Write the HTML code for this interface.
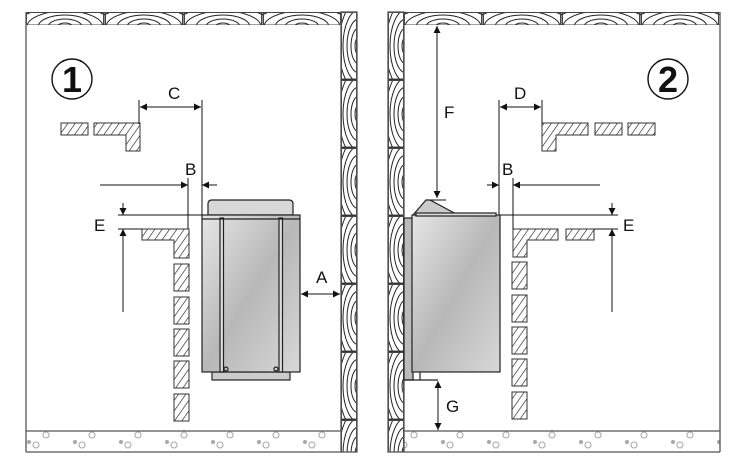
<!DOCTYPE html>
<html><head><meta charset="utf-8"><style>html,body{margin:0;padding:0;background:#fff}svg{display:block}text{font-family:"Liberation Sans",sans-serif;fill:#111}</style></head>
<body>
<svg width="750" height="470" viewBox="0 0 750 470" xmlns="http://www.w3.org/2000/svg">
<defs>
<pattern id="h" width="6" height="6" patternUnits="userSpaceOnUse" patternTransform="rotate(35)"><rect width="6" height="6" fill="#fff"/><line x1="0" y1="0" x2="0" y2="6" stroke="#222" stroke-width="1.3"/></pattern>
<linearGradient id="g" x1="0" y1="0" x2="1" y2="1"><stop offset="0" stop-color="#e6e6e6"/><stop offset="0.5" stop-color="#b8b8b8"/><stop offset="1" stop-color="#d8d8d8"/></linearGradient>
<marker id="a" viewBox="0 0 10 10" refX="10" refY="5" markerWidth="7" markerHeight="7" orient="auto-start-reverse"><path d="M0,0L10,5L0,10z" fill="#111"/></marker>
<g id="cbg" fill="none" stroke="#222" stroke-width="1">
<rect width="79" height="13" fill="#fff"/>
<ellipse cx="39" cy="15" rx="8" ry="4"/><ellipse cx="39" cy="15" rx="17" ry="8"/><ellipse cx="39" cy="15" rx="27" ry="12"/><ellipse cx="39" cy="15" rx="38" ry="16"/><ellipse cx="39" cy="15" rx="50" ry="20"/>
<rect x="0.5" y="0.5" width="77" height="12.5" stroke="#444"/>
</g>
<pattern id="cb1" x="26" y="12" width="79" height="13" patternUnits="userSpaceOnUse"><use href="#cbg"/></pattern>
<pattern id="cb2" x="404" y="12" width="79" height="13" patternUnits="userSpaceOnUse"><use href="#cbg"/></pattern>
<g id="wbg" fill="none" stroke="#222" stroke-width="1">
<rect width="16" height="68" fill="#fff"/>
<ellipse cx="18" cy="34" rx="4" ry="9"/><ellipse cx="18" cy="34" rx="8" ry="18"/><ellipse cx="18" cy="34" rx="12" ry="27"/><ellipse cx="18" cy="34" rx="16" ry="36"/><ellipse cx="18" cy="34" rx="20" ry="45"/>
<rect x="0.5" y="0.5" width="15" height="66.5" stroke="#444"/>
</g>
<pattern id="wb1" x="341" y="12" width="16" height="68" patternUnits="userSpaceOnUse"><use href="#wbg"/></pattern>
<pattern id="wb2" x="388" y="12" width="16" height="68" patternUnits="userSpaceOnUse"><use href="#wbg"/></pattern>
<pattern id="fl" x="26" y="431" width="46" height="21" patternUnits="userSpaceOnUse">
<g fill="none" stroke="#aaa" stroke-width="1.1"><circle cx="20" cy="4" r="3"/><circle cx="10" cy="14" r="3"/><circle cx="3" cy="11" r="1.5" fill="#aaa"/></g></pattern>
</defs>
<rect x="26" y="12" width="315" height="13" fill="url(#cb1)"/>
<rect x="404" y="12" width="316" height="13" fill="url(#cb2)"/>
<rect x="341" y="12" width="16" height="440" fill="url(#wb1)"/>
<rect x="388" y="12" width="16" height="440" fill="url(#wb2)"/>
<rect x="26" y="431" width="315" height="21" fill="url(#fl)"/>
<rect x="404" y="431" width="316" height="21" fill="url(#fl)"/>
<g fill="none" stroke="#555" stroke-width="1.3">
<line x1="26" y1="12" x2="26" y2="452"/><line x1="26" y1="452" x2="341" y2="452"/><line x1="26" y1="431" x2="341" y2="431"/>
<line x1="720" y1="12" x2="720" y2="452"/><line x1="404" y1="452" x2="720" y2="452"/><line x1="404" y1="431" x2="720" y2="431"/>
<rect x="341" y="12" width="16" height="440"/><rect x="388" y="12" width="16" height="440"/>
</g>
<circle cx="72" cy="79" r="20" fill="none" stroke="#111" stroke-width="1.4"/>
<text x="72" y="92" font-size="36" font-weight="bold" text-anchor="middle">1</text>
<circle cx="668" cy="79" r="20" fill="none" stroke="#111" stroke-width="1.4"/>
<text x="668" y="92" font-size="36" font-weight="bold" text-anchor="middle">2</text>
<g fill="url(#h)" stroke="#333" stroke-width="1">
<rect x="61" y="123" width="27" height="12"/>
<path d="M94,123H140V151H126V135H94Z"/>
<path d="M142,229H189V258H174V240H142Z"/>
<rect x="174" y="264" width="15" height="27"/><rect x="174" y="297" width="15" height="27"/><rect x="174" y="329" width="15" height="27"/><rect x="174" y="361" width="15" height="27"/><rect x="174" y="394" width="15" height="27"/>
<path d="M542,123H588V135H556V151H542Z"/>
<rect x="595" y="123" width="27" height="12"/><rect x="628" y="123" width="27" height="12"/>
<path d="M513,229H558V240H527V257H513Z"/>
<rect x="566" y="229" width="28" height="11"/>
<rect x="512" y="262" width="15" height="27"/><rect x="512" y="295" width="15" height="27"/><rect x="512" y="327" width="15" height="27"/><rect x="512" y="359" width="15" height="27"/><rect x="512" y="392" width="15" height="27"/>
</g>
<g stroke="#111" stroke-width="1" fill="none">
<line x1="139" y1="100" x2="139" y2="124"/><line x1="202" y1="100" x2="202" y2="218"/>
<line x1="140" y1="107" x2="201" y2="107" marker-start="url(#a)" marker-end="url(#a)"/>
<line x1="188" y1="178" x2="188" y2="229"/>
<line x1="100" y1="185" x2="188" y2="185" marker-end="url(#a)"/>
<line x1="217" y1="185" x2="202" y2="185" marker-end="url(#a)"/>
<line x1="123" y1="203" x2="123" y2="215" marker-end="url(#a)"/>
<line x1="118" y1="215" x2="202" y2="215"/><line x1="118" y1="229" x2="142" y2="229"/>
<line x1="123" y1="312" x2="123" y2="229" marker-end="url(#a)"/>
<line x1="301" y1="294" x2="340" y2="294" marker-start="url(#a)" marker-end="url(#a)"/>
<line x1="499" y1="100" x2="499" y2="218"/><line x1="542" y1="100" x2="542" y2="124"/>
<line x1="500" y1="107" x2="541" y2="107" marker-start="url(#a)" marker-end="url(#a)"/>
<line x1="513" y1="178" x2="513" y2="229"/>
<line x1="487" y1="185" x2="499" y2="185" marker-end="url(#a)"/>
<line x1="600" y1="185" x2="513" y2="185" marker-end="url(#a)"/>
<line x1="437" y1="26" x2="437" y2="198" marker-start="url(#a)" marker-end="url(#a)"/>
<line x1="428" y1="200" x2="446" y2="200"/>
<line x1="612" y1="203" x2="612" y2="215" marker-end="url(#a)"/>
<line x1="499" y1="215" x2="618" y2="215"/><line x1="594" y1="229" x2="618" y2="229"/>
<line x1="612" y1="312" x2="612" y2="229" marker-end="url(#a)"/>
<line x1="438" y1="381" x2="438" y2="430" marker-start="url(#a)" marker-end="url(#a)"/>
</g>
<g font-size="17">
<text x="168" y="99">C</text><text x="185" y="175">B</text><text x="94" y="231">E</text><text x="316" y="283">A</text>
<text x="514" y="99">D</text><text x="502" y="175">B</text><text x="444" y="118">F</text><text x="623" y="231">E</text><text x="446" y="412">G</text>
</g>
<g stroke="#222" stroke-width="1.2">
<path d="M208,215V204Q208,200 212,200H289Q293,200 293,204V215Z" fill="#d8d8d8"/>
<rect x="212" y="372" width="78" height="8" fill="#ccc"/>
<rect x="202" y="215" width="98" height="157" fill="url(#g)"/>
<rect x="220" y="218" width="3.5" height="154" fill="#ddd"/><rect x="279" y="218" width="3.5" height="154" fill="#ddd"/>
<line x1="202" y1="219" x2="300" y2="219"/>
<circle cx="226" cy="369" r="2" fill="none"/><circle cx="276" cy="369" r="2" fill="none"/>
</g>
<g stroke="#222" stroke-width="1.2">
<path d="M413,215L426,200H430L458,215Z" fill="#ccc"/>
<rect x="404" y="218" width="9" height="162" fill="#bbb"/>
<line x1="420" y1="372" x2="420" y2="380"/><line x1="404" y1="380" x2="438" y2="380"/>
<rect x="412" y="215" width="88" height="157" fill="url(#g)"/>
<rect x="416" y="213" width="80" height="3" fill="#ddd"/>
</g>
</svg>
</body></html>
